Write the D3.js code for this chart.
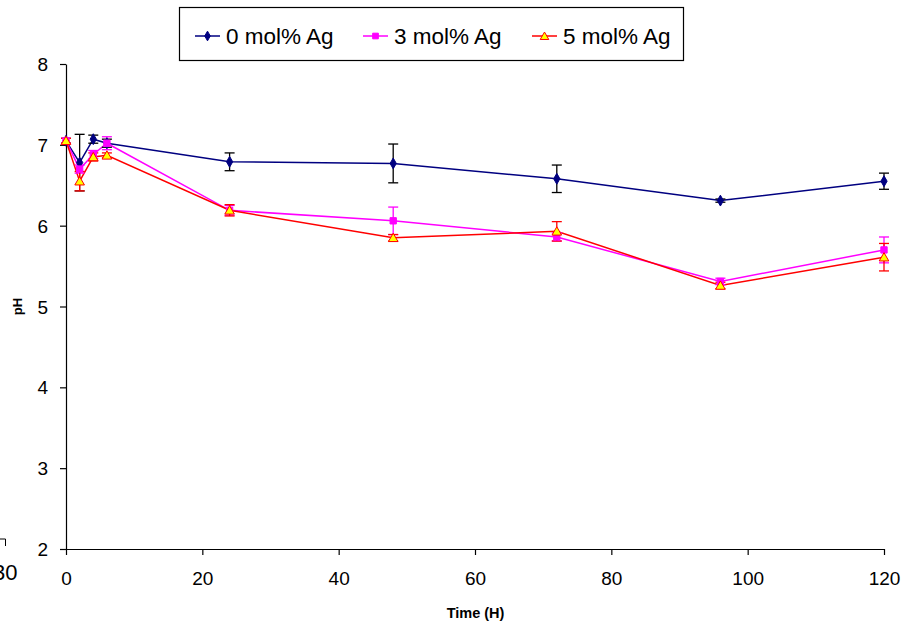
<!DOCTYPE html>
<html>
<head>
<meta charset="utf-8">
<script src="https://cdn.jsdelivr.net/npm/d3@7"></script>
<style>
  html, body { margin: 0; padding: 0; background: #fff; }
  svg { display: block; font-family: "Liberation Sans", Arial, sans-serif; }
</style>
</head>
<body>
<svg id="chart" width="914" height="623"></svg>
<script>
// Sampling times (hours)
const times = [0, 2, 4, 6, 24, 48, 72, 96, 120];

// Mean pH per Ag content
const ph0 = [7.05, 6.78, 7.07, 7.02, 6.79, 6.77, 6.58, 6.31, 6.55];
const ph3 = [7.05, 6.70, 6.88, 7.02, 6.19, 6.06, 5.86, 5.31, 5.70];
const ph5 = [7.05, 6.55, 6.85, 6.87, 6.19, 5.85, 5.93, 5.26, 5.61];

// Standard deviations
const sd0 = [0.03, 0.35, 0.05, 0.05, 0.11, 0.24, 0.17, 0.02, 0.10];
const sd3 = [0.03, 0.05, 0.05, 0.08, 0.06, 0.17, 0.05, 0.04, 0.16];
const sd5 = [0.03, 0.12, 0.05, 0.03, 0.07, 0.04, 0.12, 0.04, 0.17];

const seriesNames = ["0 mol% Ag", "3 mol% Ag", "5 mol% Ag"];
const xTicks = [0, 20, 40, 60, 80, 100, 120];
const yTicks = [2, 3, 4, 5, 6, 7, 8];

const svg = d3.select("#chart");

const x = d3.scaleLinear().domain([0, 120]).range([66, 884]);
const y = d3.scaleLinear().domain([2, 8]).range([549, 64]);

const styles = [
  { line: "#000080", err: "#000000", fill: "#000080", stroke: "#000080", shape: d3.symbolDiamond, size: 34 },
  { line: "#ff00ff", err: "#ff00ff", fill: "#ff00ff", stroke: "#ff00ff", shape: d3.symbolSquare, size: 40 },
  { line: "#ff0000", err: "#ff0000", fill: "#ffff00", stroke: "#ff0000", shape: d3.symbolTriangle, size: 40 }
];

const series = [ph0, ph3, ph5].map((vals, i) => ({
  name: seriesNames[i],
  style: styles[i],
  points: times.map((t, j) => ({ t, v: vals[j], sd: [sd0, sd3, sd5][i][j] }))
}));

// Axes
const xAxis = d3.axisBottom(x).tickValues(xTicks).tickSize(6).tickSizeOuter(0).tickPadding(17);
const yAxis = d3.axisLeft(y).tickValues(yTicks).tickFormat(d3.format("d"))
  .tickSize(6).tickSizeOuter(0).tickPadding(12);

const gx = svg.append("g").attr("transform", "translate(0,549)").call(xAxis);
const gy = svg.append("g").attr("transform", "translate(66,0)").call(yAxis);
[gx, gy].forEach(g => {
  g.select(".domain").attr("stroke", "#000").attr("stroke-width", 1.2);
  g.selectAll(".tick line").attr("stroke", "#000").attr("stroke-width", 1.2);
  g.selectAll(".tick text").attr("fill", "#000").style("font-size", "19px")
    .style("font-family", "'Liberation Sans', Arial, sans-serif");
});
gy.selectAll(".tick text").attr("dy", "0.35em");

// Axis titles
svg.append("text").attr("x", 475.5).attr("y", 618).attr("text-anchor", "middle")
  .style("font-size", "14.5px").style("font-weight", "bold").text("Time (H)");
svg.append("text").attr("transform", "translate(21.5,306.5) rotate(-90)")
  .attr("text-anchor", "middle").style("font-size", "13px").style("font-weight", "bold").text("pH");

// Stray label fragment at left edge
svg.append("path").attr("d", "M0,539H5.5V546").attr("fill", "none").attr("stroke", "#000").attr("stroke-width", 1);
svg.append("text").attr("x", 17.5).attr("y", 580).attr("text-anchor", "end")
  .style("font-size", "22px").text("30");

const line = d3.line().x(d => x(d.t)).y(d => y(d.v));

// Lines
series.forEach(s => {
  svg.append("path").datum(s.points).attr("d", line)
    .attr("fill", "none").attr("stroke", s.style.line).attr("stroke-width", 1.5);
});

// Error bars
series.forEach(s => {
  const g = svg.append("g").attr("stroke", s.style.err).attr("stroke-width", 1.3);
  s.points.forEach(p => {
    const cx = x(p.t), y1 = y(p.v + p.sd), y2 = y(p.v - p.sd);
    g.append("line").attr("x1", cx).attr("x2", cx).attr("y1", y1).attr("y2", y2);
    g.append("line").attr("x1", cx - 5).attr("x2", cx + 5).attr("y1", y1).attr("y2", y1);
    g.append("line").attr("x1", cx - 5).attr("x2", cx + 5).attr("y1", y2).attr("y2", y2);
  });
});

// Markers
series.forEach(s => {
  const sym = d3.symbol().type(s.style.shape).size(s.style.size);
  svg.append("g").selectAll("path").data(s.points).join("path")
    .attr("transform", d => `translate(${x(d.t)},${y(d.v) + (s.style.shape === d3.symbolTriangle ? 1 : 0)})`)
    .attr("d", sym)
    .attr("fill", s.style.fill).attr("stroke", s.style.stroke).attr("stroke-width", 1);
});

// Legend
const legend = svg.append("g");
legend.append("rect").attr("x", 179.5).attr("y", 7.5).attr("width", 504).attr("height", 53)
  .attr("fill", "#fff").attr("stroke", "#000").attr("stroke-width", 1.2);
const legendX = [195, 363, 532];
series.forEach((s, i) => {
  const lx = legendX[i], ly = 36;
  legend.append("line").attr("x1", lx).attr("x2", lx + 25).attr("y1", ly).attr("y2", ly)
    .attr("stroke", s.style.line).attr("stroke-width", 1.5);
  legend.append("path")
    .attr("transform", `translate(${lx + 12.5},${ly + (s.style.shape === d3.symbolTriangle ? 1 : 0)})`)
    .attr("d", d3.symbol().type(s.style.shape).size(s.style.size * 0.8))
    .attr("fill", s.style.fill).attr("stroke", s.style.stroke).attr("stroke-width", 1);
  legend.append("text").attr("x", lx + 31).attr("y", ly).attr("dy", "0.35em")
    .style("font-size", "22.5px").text(s.name);
});
</script>
</body>
</html>
